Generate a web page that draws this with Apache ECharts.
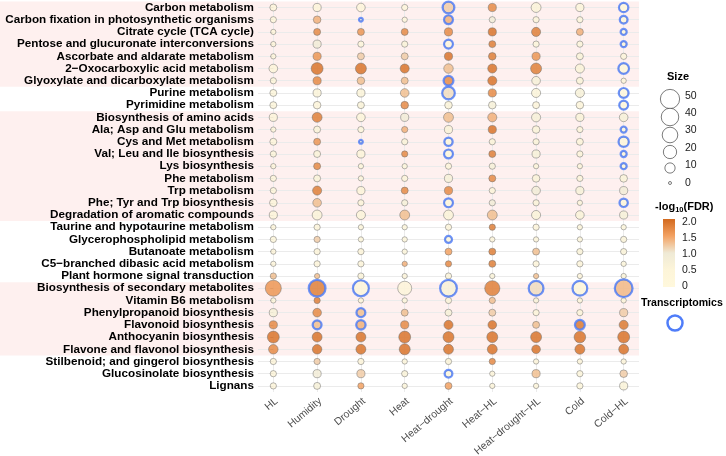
<!DOCTYPE html>
<html><head><meta charset="utf-8">
<script src="https://cdn.jsdelivr.net/npm/echarts@6/dist/echarts.min.js"></script>
<style>html,body{margin:0;padding:0;background:#fff}#c{width:726px;height:456px}</style>
</head><body><div id="c"></div>
<script>
const pathways = ["Carbon metabolism","Carbon fixation in photosynthetic organisms","Citrate cycle (TCA cycle)","Pentose and glucuronate interconversions","Ascorbate and aldarate metabolism","2\u2212Oxocarboxylic acid metabolism","Glyoxylate and dicarboxylate metabolism","Purine metabolism","Pyrimidine metabolism","Biosynthesis of amino acids","Ala; Asp and Glu metabolism","Cys and Met metabolism","Val; Leu and Ile biosynthesis","Lys biosynthesis","Phe metabolism","Trp metabolism","Phe; Tyr and Trp biosynthesis","Degradation of aromatic compounds","Taurine and hypotaurine metabolism","Glycerophospholipid metabolism","Butanoate metabolism","C5\u2212branched dibasic acid metabolism","Plant hormone signal transduction","Biosynthesis of secondary metabolites","Vitamin B6 metabolism","Phenylpropanoid biosynthesis","Flavonoid biosynthesis","Anthocyanin biosynthesis","Flavone and flavonol biosynthesis","Stilbenoid; and gingerol biosynthesis","Glucosinolate biosynthesis","Lignans"];
const conditions = ["HL","Humidity","Drought","Heat","Heat\u2212drought","Heat\u2212HL","Heat\u2212drought\u2212HL","Cold","Cold\u2212HL"];
// pathway size (count) per row, columns follow `conditions`
const sizeVals = [
[3,5,6,2,12,5,9,5,6],
[2,4,0,1,5,2,2,2,3],
[1,3,3,3,5,5,7,3,1],
[1,5,2,2,5,3,2,2,1],
[1,5,3,3,5,4,5,3,2],
[6,15,12,7,8,7,12,7,9],
[2,5,4,3,7,7,6,3,1],
[3,5,5,6,15,5,7,7,7],
[3,4,3,4,4,4,3,4,5],
[5,9,6,5,9,7,7,5,6],
[1,3,2,2,5,5,4,2,1],
[3,3,0,2,4,2,2,3,8],
[2,3,5,2,5,3,5,2,1],
[1,3,1,1,2,2,1,1,1],
[2,3,1,2,5,3,4,2,4],
[2,7,5,3,5,2,6,5,5],
[4,6,2,2,5,2,2,1,4],
[5,9,7,9,9,9,7,6,5],
[1,2,1,1,2,2,2,1,1],
[2,2,1,1,2,1,1,1,2],
[1,2,2,1,3,3,3,2,2],
[1,2,2,1,2,3,2,2,1],
[2,1,2,1,2,1,1,1,1],
[32,32,28,23,32,28,23,23,37],
[1,2,1,1,2,2,1,1,1],
[5,6,5,3,3,3,2,2,5],
[5,5,6,5,7,6,3,7,7],
[15,9,9,15,12,12,12,14,15],
[8,8,9,12,9,9,6,9,9],
[2,2,2,1,2,2,1,1,1],
[2,5,5,2,3,1,5,2,4],
[2,3,2,1,3,1,1,2,5]];
// -log10(FDR)
const fdrVals = [
[0.3,0.5,0.3,0.3,1.2,1.7,0.6,0.4,0.1],
[0.3,1.4,0.2,0.3,1.4,0.9,0.5,0.4,0.2],
[0.3,1.7,1.6,1.7,1.7,1.9,1.8,1.4,0.2],
[0.3,0.9,0.4,0.6,0.3,1.8,0.4,0.4,0.2],
[0.3,1.6,1.2,1.2,1.9,1.8,1.6,0.6,0.5],
[0.5,1.9,1.9,1.9,1.3,1.9,1.8,0.6,0.3],
[0.4,1.7,1.3,1.3,1.7,1.9,0.7,0.6,0.5],
[0.4,0.6,0.6,1.3,1.1,1.7,0.6,0.7,0.2],
[0.4,0.5,0.6,1.7,0.6,0.7,0.5,0.5,0.2],
[0.5,1.8,0.4,0.9,1.3,1.4,0.7,0.6,0.7],
[0.3,0.6,0.4,1.4,0.6,1.9,0.6,0.5,0.2],
[0.4,1.6,0.2,0.6,0.2,0.6,0.6,0.5,0.3],
[0.4,0.6,0.5,1.7,0.2,1.8,0.7,0.5,0.2],
[0.3,1.7,0.4,0.4,0.5,0.7,0.5,0.5,0.2],
[0.4,0.6,0.4,0.5,0.7,1.7,0.6,0.5,0.6],
[0.4,1.8,0.5,1.7,1.7,0.5,0.9,0.7,0.9],
[0.5,1.3,0.5,0.7,0.2,0.9,0.6,0.5,0.2],
[0.5,0.6,0.5,1.3,0.6,1.3,0.6,0.6,0.7],
[0.3,0.5,0.4,0.4,0.5,1.8,0.5,0.4,0.4],
[0.4,1.2,0.4,0.4,0.2,0.5,0.5,0.4,0.6],
[0.3,0.5,0.5,0.4,1.5,1.8,1.3,0.6,0.6],
[0.3,0.5,0.5,1.4,1.7,1.8,0.5,0.5,0.4],
[1.3,1.3,0.6,0.5,0.6,0.6,1.3,0.5,0.6],
[1.6,1.8,0.4,0.5,0.7,1.8,1.1,0.4,1.35],
[0.4,1.8,0.4,0.4,0.6,1.3,0.6,0.5,0.5],
[0.7,1.7,1.3,1.3,0.7,1.2,0.5,0.5,1.2],
[1.7,1.3,1.4,1.7,1.9,1.9,1.3,1.85,1.85],
[1.9,1.9,1.9,1.9,1.9,1.9,1.9,1.9,1.9],
[1.7,1.9,1.9,1.9,1.9,1.9,1.9,1.9,1.9],
[0.5,1.2,0.5,0.4,0.6,1.7,0.5,0.5,0.5],
[0.5,0.9,1.2,0.6,0.2,0.5,1.3,0.4,1.2],
[0.5,0.7,1.5,0.4,1.5,0.5,0.5,0.4,0.6]];
// 1 = also enriched in transcriptomics (blue ring)
const transcriptomics = [
[0,0,0,0,1,0,0,0,1],
[0,0,1,0,1,0,0,0,1],
[0,0,0,0,0,0,0,0,1],
[0,0,0,0,1,0,0,0,1],
[0,0,0,0,0,0,0,0,0],
[0,0,0,0,0,0,0,0,1],
[0,0,0,0,1,0,0,0,0],
[0,0,0,0,1,0,0,0,1],
[0,0,0,0,0,0,0,0,1],
[0,0,0,0,0,0,0,0,0],
[0,0,0,0,0,0,0,0,1],
[0,0,1,0,1,0,0,0,1],
[0,0,0,0,1,0,0,0,1],
[0,0,0,0,0,0,0,0,1],
[0,0,0,0,0,0,0,0,0],
[0,0,0,0,0,0,0,0,0],
[0,0,0,0,1,0,0,0,1],
[0,0,0,0,0,0,0,0,0],
[0,0,0,0,0,0,0,0,0],
[0,0,0,0,1,0,0,0,0],
[0,0,0,0,0,0,0,0,0],
[0,0,0,0,0,0,0,0,0],
[0,0,0,0,0,0,0,0,0],
[0,1,1,0,1,0,1,1,1],
[0,0,0,0,0,0,0,0,0],
[0,0,1,0,0,0,0,0,0],
[0,1,1,0,0,0,0,1,0],
[0,0,0,0,0,0,0,0,0],
[0,0,0,0,0,0,0,0,0],
[0,0,0,0,0,0,0,0,0],
[0,0,0,0,1,0,0,0,0],
[0,0,0,0,0,0,0,0,0]];
const bandGroups = [[0,6],[9,17],[23,28]];
const sizeBreaks = [50,40,30,20,10,0];
const fdrBreaks = [2.0,1.5,1.0,0.5,0];
const fdrColors = ['#FFF8DC','#FDF5D9','#EFEAD6','#F3A263','#D2691E'];

const FONT = 'Liberation Sans, Arial, Helvetica, sans-serif';
const sz = s => 3 + 2.3 * Math.sqrt(s);

const pts = [], rings = [];
for (let r = 0; r < pathways.length; r++) {
  for (let c = 0; c < conditions.length; c++) {
    pts.push([c, r, sizeVals[r][c], fdrVals[r][c]]);
    if (transcriptomics[r][c]) rings.push([c, r, sizeVals[r][c], fdrVals[r][c]]);
  }
}

const chart = echarts.init(document.getElementById('c'), null, {renderer: 'canvas'});
const GL = 258, GR = 87, GT = 1.4, GB = 64;
const option = {
  animation: false,
  backgroundColor: '#fff',
  grid: {left: GL, right: GR, top: GT, bottom: GB, containLabel: false, outerBoundsMode: 'none'},
  xAxis: {
    type: 'value', min: -0.35, max: 8.35,
    axisLine: {show: false},
    axisTick: {show: false, customValues: conditions.map((_, i) => i)},
    splitLine: {show: true, lineStyle: {color: '#EBEBEB', width: 1}},
    axisLabel: {
      customValues: conditions.map((_, i) => i),
      formatter: v => conditions[Math.round(v)] || '',
      rotate: 40, margin: 4, verticalAlign: 'top', hideOverlap: false,
      color: '#4D4D4D', fontSize: 10.4, fontFamily: FONT
    }
  },
  yAxis: {
    type: 'value', inverse: true, min: -0.5, max: pathways.length - 0.5,
    axisLine: {show: false},
    axisTick: {show: true, length: 3, lineStyle: {color: '#AAAAAA'}, customValues: pathways.map((_, i) => i)},
    splitLine: {show: true, lineStyle: {color: '#EBEBEB', width: 1}},
    axisLabel: {
      customValues: pathways.map((_, i) => i),
      formatter: v => pathways[Math.round(v)] || '',
      hideOverlap: false, showMinLabel: true, showMaxLabel: true,
      margin: 4, color: '#000', fontWeight: 'bold', fontSize: 11.7, fontFamily: FONT
    }
  },
  visualMap: {
    show: false, type: 'continuous', min: 0, max: 2, dimension: 3, seriesIndex: 0,
    inRange: {color: fdrColors}
  },
  series: [
    {
      type: 'scatter', data: pts, z: 3,
      symbolSize: d => sz(d[2]),
      itemStyle: {borderColor: '#6E6E6E', borderWidth: 0.6, opacity: 0.85}
    },
    {
      type: 'scatter', data: rings, z: 4,
      symbolSize: d => sz(d[2]) + 0.8,
      itemStyle: {color: 'rgba(0,0,0,0)', borderColor: '#4F7DF9', borderWidth: 2.2}
    }
  ]
};
chart.setOption(option);

// background bands and legends
const g = [];
const p0 = chart.convertToPixel({gridIndex: 0}, [0, 0]);
const p1 = chart.convertToPixel({gridIndex: 0}, [0, 1]);
const step = p1[1] - p0[1];
const rightEdge = 726 - GR;
bandGroups.forEach(([a, b]) => {
  const ya = chart.convertToPixel({gridIndex: 0}, [0, a])[1] - step / 2;
  const yb = chart.convertToPixel({gridIndex: 0}, [0, b])[1] + step / 2;
  g.push({type: 'rect', z: -10, silent: true, shape: {x: 0, y: ya, width: rightEdge, height: yb - ya}, style: {fill: '#FEF0EF'}});
});

// Size legend
g.push({type: 'text', z: 10, style: {text: 'Size', x: 667, y: 77, fill: '#000', font: 'bold 11px ' + FONT, textVerticalAlign: 'middle'}});
const sizeCy = [99, 117, 135, 152, 168, 183];
const sizeLy = [96, 113, 130, 148, 165, 183];
sizeBreaks.forEach((s, i) => {
  g.push({type: 'circle', z: 10, shape: {cx: 670, cy: sizeCy[i], r: sz(s) / 2}, style: {fill: '#fff', stroke: '#444', lineWidth: 0.7}});
  g.push({type: 'text', z: 10, style: {text: String(s), x: 685, y: sizeLy[i], fill: '#1A1A1A', font: '10.5px ' + FONT, textVerticalAlign: 'middle'}});
});

// colour bar legend
g.push({type: 'text', z: 10, style: {rich: {b: {font: 'bold 11px ' + FONT, fill: '#000'}, s: {font: 'bold 7.5px ' + FONT, fill: '#000', padding: [5, 0, 0, 0]}}, text: '{b|-log}{s|10}{b|(FDR)}', x: 655, y: 207, textVerticalAlign: 'middle'}});
const barTop = 219, barBot = 287, barX = 663, barW = 12;
const v2y = v => barBot - 1 - (v / 2) * (barBot - 1 - (barTop + 3));
g.push({type: 'rect', z: 10, shape: {x: barX, y: barTop, width: barW, height: barBot - barTop},
  style: {fill: new echarts.graphic.LinearGradient(0, 1, 0, 0, fdrColors.map((c, i) => ({offset: i / (fdrColors.length - 1), color: c})))}});
fdrBreaks.forEach(v => {
  g.push({type: 'text', z: 10, style: {text: v === 0 ? '0' : v.toFixed(1), x: 682, y: v2y(v), fill: '#1A1A1A', font: '10.5px ' + FONT, textVerticalAlign: 'middle'}});
});

// Transcriptomics legend
g.push({type: 'text', z: 10, style: {text: 'Transcriptomics', x: 641, y: 303, fill: '#000', font: 'bold 10.6px ' + FONT, textVerticalAlign: 'middle'}});
g.push({type: 'circle', z: 10, shape: {cx: 675, cy: 323, r: 7.5}, style: {fill: 'none', stroke: '#4F7DF9', lineWidth: 2.5}});

chart.setOption({graphic: {elements: g}});
</script></body></html>
